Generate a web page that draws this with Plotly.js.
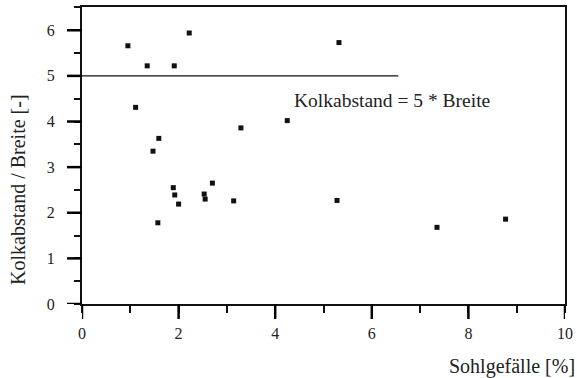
<!DOCTYPE html>
<html>
<head>
<meta charset="utf-8">
<script src="https://cdn.plot.ly/plotly-3.0.1.min.js"></script>
<style>html,body{margin:0;padding:0;background:#fff;}#chart{width:577px;height:378px;}</style>
</head>
<body>
<div id="chart"></div>
<script>
// Data
const sohlgefaelle = [0.95, 1.35, 1.91, 2.22, 5.32, 1.11, 1.59, 1.47, 3.29, 4.25, 1.89, 1.92, 2.00, 1.57, 2.53, 2.55, 2.70, 3.14, 5.28, 7.35, 8.77];
const kolkabstandBreite = [5.66, 5.22, 5.22, 5.94, 5.73, 4.31, 3.63, 3.35, 3.86, 4.02, 2.55, 2.39, 2.19, 1.78, 2.41, 2.30, 2.65, 2.26, 2.27, 1.68, 1.86];
const refLineX = [0, 6.55];
const refLineY = [5, 5];
const refLabel = "Kolkabstand = 5 * Breite";
const xTitle = "Sohlgefälle [%]";
const yTitle = "Kolkabstand / Breite [-]";
const xRange = [0, 10];
const yRange = [0, 6.51];
const xMajorTicks = [0, 2, 4, 6, 8, 10];
const yMajorTicks = [0, 1, 2, 3, 4, 5, 6];

const serif = "Liberation Serif";

const traces = [
  {x: refLineX, y: refLineY, xaxis: "x2", yaxis: "y2", mode: "lines", line: {color: "#111", width: 1.3}, hoverinfo: "skip", showlegend: false},
  {x: sohlgefaelle, y: kolkabstandBreite, mode: "markers", type: "scatter",
   marker: {symbol: "square", size: 5, color: "#111"}, showlegend: false}
];

const tickAxis = (range, over, anchor, side, dtick, len) => ({
  range: range, overlaying: over, anchor: anchor, side: side,
  tickmode: "linear", tick0: 0, dtick: dtick, ticks: "outside", ticklen: len, tickwidth: 2, tickcolor: "#111",
  showticklabels: false, showline: false, showgrid: false, zeroline: false
});

// major tick marks placed at the axis values, length in pixels
const tickShapes = [].concat(
  xMajorTicks.map(v => ({type: "line", xref: "x", yref: "paper", ysizemode: "pixel", yanchor: 0,
    x0: v, x1: v, y0: 0, y1: -15, line: {color: "#000", width: 2.5}, layer: "above"})),
  yMajorTicks.map(v => ({type: "line", xref: "paper", yref: "y", xsizemode: "pixel", xanchor: 0,
    x0: 0, x1: -15, y0: v, y1: v, line: {color: "#000", width: 2.5}, layer: "above"}))
);

const layout = {
  width: 577, height: 378,
  margin: {l: 82, r: 12, t: 7, b: 74},
  paper_bgcolor: "#fff", plot_bgcolor: "#fff",
  font: {family: serif, color: "#222", size: 16},
  showlegend: false,
  xaxis: {
    range: xRange, tickmode: "linear", tick0: 0, dtick: 2, ticks: "",
    showgrid: false, zeroline: false, showline: true, linecolor: "#111", linewidth: 2, mirror: true,
    tickfont: {family: serif, size: 16, color: "#222"}, ticklabelstandoff: 14
  },
  xaxis2: tickAxis(xRange, "x", "y", "bottom", 1, 8),
  yaxis: {
    range: yRange, tickmode: "linear", tick0: 0, dtick: 1, ticks: "",
    showgrid: false, zeroline: false, showline: true, linecolor: "#111", linewidth: 2, mirror: true,
    tickfont: {family: serif, size: 16, color: "#222"}, ticklabelstandoff: 22
  },
  yaxis2: tickAxis(yRange, "y", "x", "left", 0.5, 7),
  shapes: tickShapes,
  annotations: [
    {x: 4.35, y: 4.47, xref: "x", yref: "y", text: refLabel, showarrow: false, xanchor: "left", yanchor: "middle",
     font: {family: serif, size: 19.5, color: "#222"}},
    {x: 1, y: 0, xref: "paper", yref: "paper", text: xTitle, showarrow: false, xanchor: "right", yanchor: "middle",
     xshift: 12, yshift: -62, font: {family: serif, size: 20, color: "#222"}},
    {x: 0, y: 0.384, xref: "paper", yref: "paper", text: yTitle, textangle: -90, showarrow: false,
     xanchor: "center", yanchor: "middle", xshift: -64, font: {family: serif, size: 20, color: "#222"}}
  ]
};

Plotly.newPlot("chart", traces, layout, {displayModeBar: false, staticPlot: true});
</script>
</body>
</html>
